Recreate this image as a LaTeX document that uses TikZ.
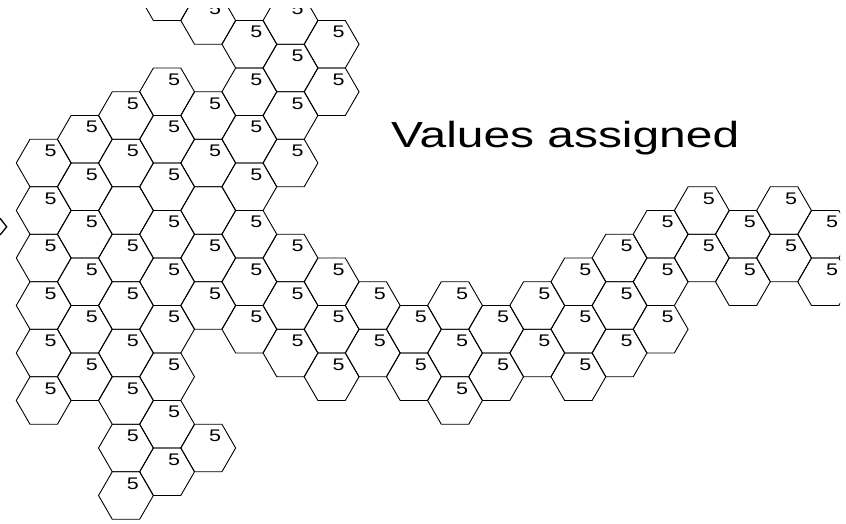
\documentclass[tikz,border=0pt]{standalone}
\usepackage{fontspec}
\setmainfont{Liberation Sans}
\newfontfamily\valfont[FakeStretch=1.28]{Liberation Sans}
\newfontfamily\capfont[FakeStretch=1.32]{Liberation Sans}
\usetikzlibrary{shapes.geometric}
\tikzstyle{cell}=[draw,black,line width=0.9pt,regular polygon,regular polygon sides=6,minimum size=54.84pt,inner sep=0pt,outer sep=0pt]
\tikzstyle{val}=[font=\valfont\fontsize{16.8}{18}\selectfont,inner sep=0pt]
\tikzstyle{caption}=[font=\capfont\fontsize{36.3}{40}\selectfont,inner sep=0pt,anchor=base west]

\begin{document}
\begin{tikzpicture}[x=1pt,y=1pt]
\useasboundingbox (0,0) rectangle (846,-524);
\begin{scope}
\clip (0,-8.3) rectangle (840,-524);
% cells holding a value
\foreach \c/\k in {0/6,0/8,0/10,0/12,0/14,0/16,
                   1/5,1/7,1/9,1/11,1/13,1/15,
                   2/4,2/6,2/10,2/12,2/14,2/16,2/18,2/20,
                   3/3,3/5,3/7,3/9,3/11,3/13,3/15,3/17,3/19,
                   4/0,4/4,4/6,4/10,4/12,4/18,
                   5/1,5/3,5/5,5/7,5/9,5/11,5/13,
                   6/0,6/2,6/4,6/6,6/10,6/12,6/14,
                   7/1,7/3,7/11,7/13,7/15,
                   8/12,8/14, 9/13,9/15, 10/12,10/14,10/16,
                   11/13,11/15, 12/12,12/14, 13/11,13/13,13/15,
                   14/10,14/12,14/14, 15/9,15/11,15/13,
                   16/8,16/10, 17/9,17/11, 18/8,18/10, 19/9,19/11}
  {\node[cell] (h\c-\k) at ({43.7+41.13*\c},{-20.5-23.75*\k}) {};
   \node[val] (v\c-\k) at ([xshift=7pt,yshift=12pt]h\c-\k.center) {5};}
% cells with no value
\foreach \c/\k in {3/-1,2/8,4/8}
  \node[cell] (e\c-\k) at ({43.7+41.13*\c},{-20.5-23.75*\k}) {};
\end{scope}
\node[caption] (title) at (391,-147.7) {Values assigned};
% tip of the arrow from the panel on the left
\draw[line width=1.3pt] (0,-218.3) -- (6.7,-226.8) -- (0,-235);
\end{tikzpicture}
\end{document}
